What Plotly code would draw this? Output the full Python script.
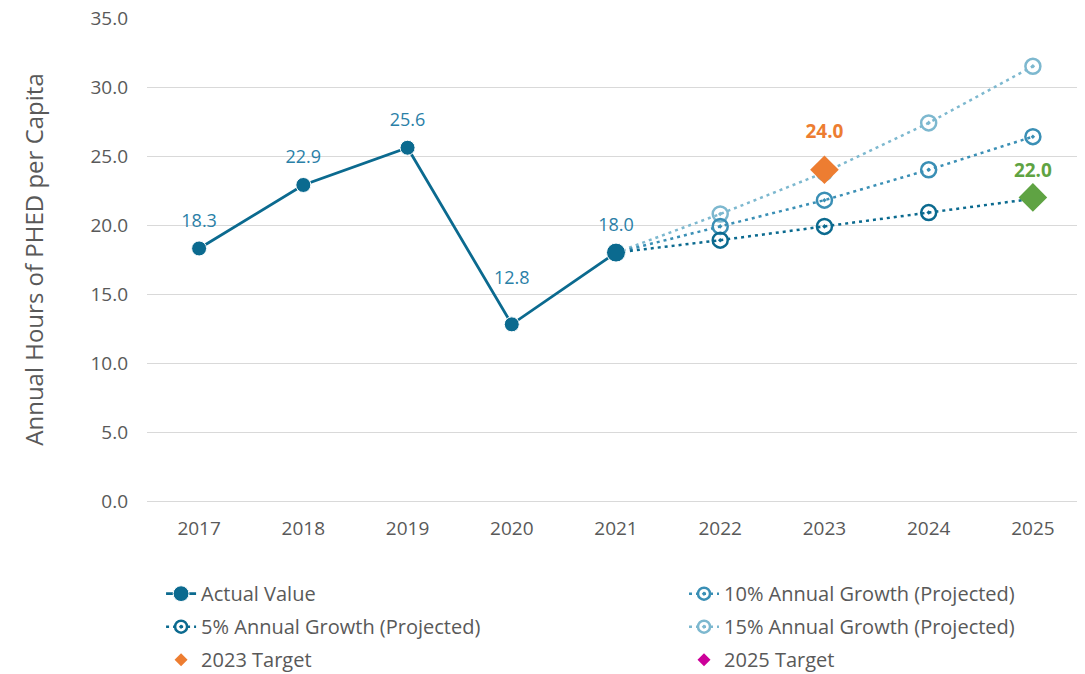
import plotly.graph_objects as go

years = ["2017", "2018", "2019", "2020", "2021", "2022", "2023", "2024", "2025"]
actual_years = ["2017", "2018", "2019", "2020", "2021"]
actual = [18.3, 22.9, 25.6, 12.8, 18.0]

proj_years = ["2021", "2022", "2023", "2024", "2025"]
growth_5 = [18.0, 18.9, 19.9, 20.9, 21.9]
growth_10 = [18.0, 19.9, 21.8, 24.0, 26.4]
growth_15 = [18.0, 20.8, 23.8, 27.4, 31.5]

target_2023 = 24.0
target_2025 = 22.0

FONT = "Open Sans"
GREY = "#595959"
C_ACT = "#0B6A8F"
C_LBL = "#2A80A7"
C_5 = "#0B6A8F"
C_10 = "#3A8FB5"
C_15 = "#7DB8CF"
C_T23 = "#ED7D31"
C_T25 = "#5FA343"
C_T25_LEG = "#CC0099"
DOT = "3px,4px"

fig = go.Figure()


def proj_trace(name, vals, color, legend, rank):
    return go.Scatter(
        x=proj_years, y=vals, name=name, mode="lines+markers",
        line=dict(color=color, width=2.5, dash=DOT),
        marker=dict(symbol="circle-open-dot", size=[0, 15, 15, 15, 15],
                    opacity=1, color=color, line=dict(width=2.5, color=color)),
        legend=legend, legendrank=rank, legendgroup=name,
    )


fig.add_trace(proj_trace("15% Annual Growth (Projected)", growth_15, C_15, "legend2", 2))
fig.add_trace(proj_trace("10% Annual Growth (Projected)", growth_10, C_10, "legend2", 1))
fig.add_trace(proj_trace("5% Annual Growth (Projected)", growth_5, C_5, "legend", 2))

fig.add_trace(go.Scatter(
    x=actual_years, y=actual, name="Actual Value", mode="lines+markers",
    line=dict(color=C_ACT, width=2.8),
    marker=dict(size=[15, 15, 15, 15, 19], color=C_ACT, opacity=1),
    legend="legend", legendrank=1, legendgroup="act",
))

# data labels (invisible markers only set the text offset)
fig.add_trace(go.Scatter(
    x=actual_years, y=actual, mode="markers+text", showlegend=False,
    hoverinfo="skip",
    marker=dict(size=[26, 26, 26, 56, 26], opacity=0, color=C_ACT),
    text=[f"{v:.1f}" for v in actual], textposition="top center",
    textfont=dict(family=FONT, size=18, color=C_LBL),
    legendgroup="act",
))

# target markers
fig.add_trace(go.Scatter(
    x=["2023"], y=[target_2023], mode="markers", showlegend=False,
    marker=dict(symbol="diamond", size=22, color=C_T23),
    legend="legend", legendgroup="t23",
))
fig.add_trace(go.Scatter(
    x=["2025"], y=[target_2025], mode="markers", showlegend=False,
    marker=dict(symbol="diamond", size=22, color=C_T25),
    legend="legend2", legendgroup="t25",
))
fig.add_trace(go.Scatter(
    x=["2023"], y=[target_2023], mode="markers+text", showlegend=False,
    hoverinfo="skip", marker=dict(size=41, opacity=0, color=C_T23),
    text=[f"<b>{target_2023:.1f}</b>"], textposition="top center",
    textfont=dict(family=FONT, size=19, color=C_T23),
    legend="legend", legendgroup="t23",
))
fig.add_trace(go.Scatter(
    x=["2025"], y=[target_2025], mode="markers+text", showlegend=False,
    hoverinfo="skip", marker=dict(size=23, opacity=0, color=C_T25),
    text=[f"<b>{target_2025:.1f}</b>"], textposition="top center",
    textfont=dict(family=FONT, size=19, color=C_T25),
    legend="legend2", legendgroup="t25",
))

# legend entries for targets
fig.add_trace(go.Scatter(
    x=["2023"], y=[None], mode="markers", name="2023 Target",
    marker=dict(symbol="diamond", size=10, color=C_T23),
    legend="legend", legendrank=3, legendgroup="t23",
))
fig.add_trace(go.Scatter(
    x=["2025"], y=[None], mode="markers", name="2025 Target",
    marker=dict(symbol="diamond", size=10, color=C_T25_LEG),
    legend="legend2", legendrank=3, legendgroup="t25",
))

leg_common = dict(
    orientation="v", yref="container", yanchor="top", y=0.16,
    xanchor="left",
    font=dict(family=FONT, size=20, color=GREY),
    bgcolor="rgba(0,0,0,0)", tracegroupgap=4,
    traceorder="grouped",
)

fig.update_layout(
    width=1085, height=674,
    margin=dict(l=139, r=8, t=10, b=181, autoexpand=False),
    paper_bgcolor="white", plot_bgcolor="white",
    font=dict(family=FONT, color=GREY, size=19),
    legend=dict(x=0.015, **leg_common),
    legend2=dict(x=0.5725, **leg_common),
    xaxis=dict(
        type="category", categoryorder="array", categoryarray=years,
        range=[-0.5, 8.5], showgrid=False, showline=False, zeroline=False,
        tickfont=dict(size=19, color=GREY), ticklabelstandoff=14,
    ),
    yaxis=dict(
        range=[0, 35], dtick=5, tickformat=".1f",
        showgrid=True, gridcolor="#D9D9D9", gridwidth=1,
        zeroline=True, zerolinecolor="#D9D9D9", zerolinewidth=1,
        showline=False, tickfont=dict(size=19, color=GREY),
        ticklabelstandoff=18, ticklabeloverflow="allow", automargin=False,
        title=dict(text="Annual Hours of PHED per Capita",
                   font=dict(size=24, color=GREY), standoff=40),
    ),
)

fig.write_html("out.html")
